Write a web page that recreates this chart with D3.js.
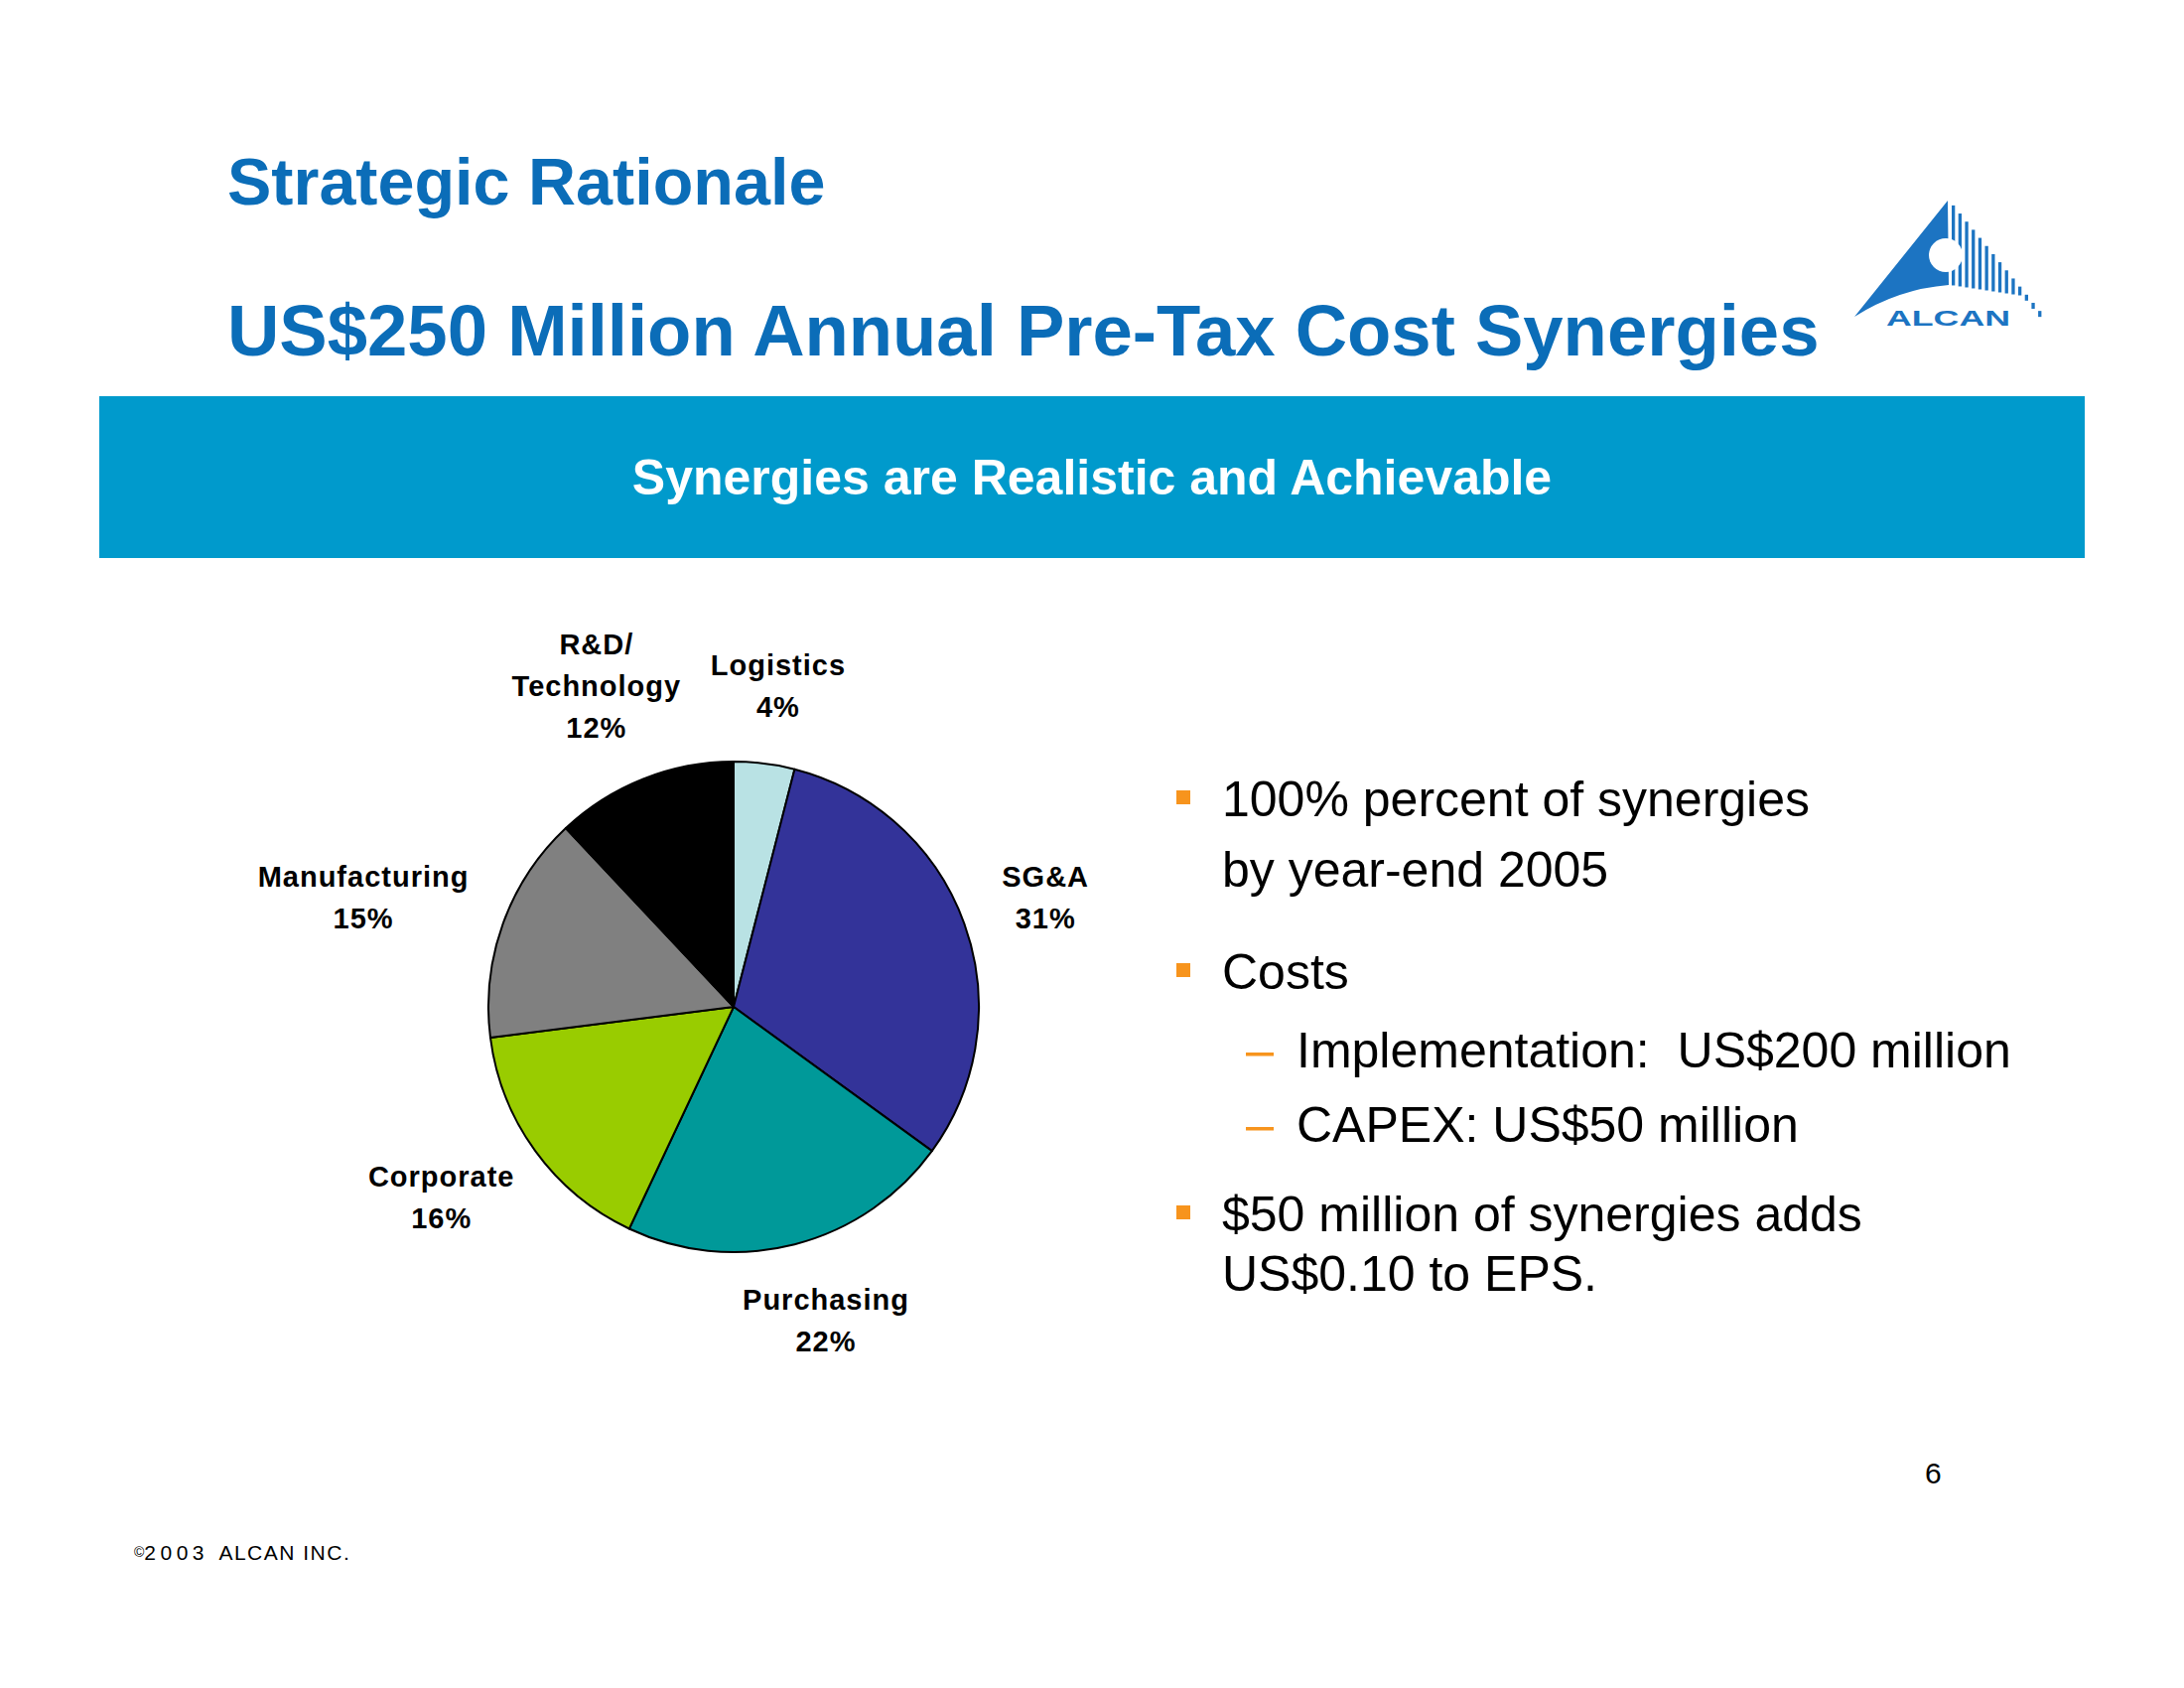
<!DOCTYPE html>
<html>
<head>
<meta charset="utf-8">
<script src="https://cdn.jsdelivr.net/npm/d3@7"></script>
<style>
  body { margin: 0; background: #fff; }
  svg { display: block; }
  text { font-family: "Liberation Sans", Arial, sans-serif; }
</style>
</head>
<body>
<div id="slide"></div>
<script>
// pie data
const categories = ['Logistics', 'SG&A', 'Purchasing', 'Corporate', 'Manufacturing', 'R&D/Technology'];
const labelLines = [['Logistics'], ['SG&A'], ['Purchasing'], ['Corporate'], ['Manufacturing'], ['R&D/', 'Technology']];
const shares = [4, 31, 22, 16, 15, 12];
const sliceColors = ['#b9e2e4', '#333399', '#009999', '#99cc00', '#808080', '#000000'];

// slide text
const kicker = 'Strategic Rationale';
const headline = 'US$250 Million Annual Pre-Tax Cost Synergies';
const banner = 'Synergies are Realistic and Achievable';
const bullets = [
  { level: 1, lines: ['100% percent of synergies', 'by year-end 2005'] },
  { level: 1, lines: ['Costs'] },
  { level: 2, lines: ['Implementation:\u00a0 US$200 million'] },
  { level: 2, lines: ['CAPEX: US$50 million'] },
  { level: 1, lines: ['$50 million of synergies adds', 'US$0.10 to EPS.'] },
];
const pageNumber = '6';

const width = 2200, height = 1700;
const blue = '#0b6db8';
const orange = '#f7941d';

const svg = d3.select('#slide')
  .append('svg')
    .attr('width', width)
    .attr('height', height)
    .attr('viewBox', `0 0 ${width} ${height}`);

svg.append('rect').attr('width', width).attr('height', height).attr('fill', '#fff');

// titles
svg.append('text')
  .attr('x', 229).attr('y', 206)
  .attr('fill', blue)
  .attr('font-size', 66.5)
  .attr('font-weight', 'bold')
  .text(kicker);

svg.append('text')
  .attr('x', 229).attr('y', 358)
  .attr('fill', blue)
  .attr('font-size', 72.5)
  .attr('font-weight', 'bold')
  .text(headline);

// logo
const logo = svg.append('g').attr('fill', '#1c74c2');
logo.append('path')
  .attr('d', 'M1962,202 L1868,319 Q1912,291 1963,287 Z');
const hyp = x => 202 + (x - 1962) * 1.22;
d3.range(1966, 2058, 6.7).forEach(x => {
  const top = hyp(x);
  const bottom = Math.max(287 + (x - 1963) * 0.15, top + 6);
  logo.append('rect')
    .attr('x', x).attr('y', top)
    .attr('width', 3.3).attr('height', bottom - top);
});
logo.append('circle')
  .attr('cx', 1960).attr('cy', 257).attr('r', 17)
  .attr('fill', '#fff');
logo.append('text')
  .attr('x', 1900).attr('y', 328)
  .attr('font-size', 22)
  .attr('font-weight', 'bold')
  .attr('textLength', 125)
  .attr('lengthAdjust', 'spacingAndGlyphs')
  .text('ALCAN');

// banner
svg.append('rect')
  .attr('x', 100).attr('y', 399)
  .attr('width', 2000).attr('height', 163)
  .attr('fill', '#009acc');

svg.append('text')
  .attr('x', 1100).attr('y', 498)
  .attr('text-anchor', 'middle')
  .attr('fill', '#fff')
  .attr('font-size', 50)
  .attr('font-weight', 'bold')
  .text(banner);

// pie
const cx = 739, cy = 1014, radius = 247;

const pie = d3.pie()
  .sort(null)
  .value(d => d.value);

const arc = d3.arc()
  .innerRadius(0)
  .outerRadius(radius);

const pieData = pie(categories.map((c, i) => ({ name: c, value: shares[i], i })));

const group = svg.append('g')
  .attr('transform', `translate(${cx}, ${cy})`);

group.selectAll('.slice')
  .data(pieData)
  .enter().append('path')
    .attr('class', 'slice')
    .attr('d', arc)
    .attr('fill', d => sliceColors[d.data.i])
    .attr('stroke', '#000')
    .attr('stroke-width', 2)
    .attr('stroke-linejoin', 'round');

// labels outside the pie, nearest edge of the text box on a ring
const labelRing = 290;
const lineHeight = 42;
pieData.forEach(d => {
  const a = (d.startAngle + d.endAngle) / 2;
  const lines = [...labelLines[d.data.i], `${d.data.value}%`];
  const label = group.append('text')
    .attr('text-anchor', 'middle')
    .attr('font-size', 29)
    .attr('font-weight', 'bold')
    .attr('letter-spacing', 1)
    .attr('fill', '#000');
  lines.forEach((line, k) => {
    label.append('tspan')
      .attr('x', 0)
      .attr('y', k * lineHeight)
      .text(line);
  });
  const w = label.node().getBBox().width;
  const h = (lines.length - 1) * lineHeight + 30;
  const lx = (labelRing + w / 2) * Math.sin(a);
  const ly = -(labelRing + h / 2) * Math.cos(a);
  label.attr('transform', `translate(${lx}, ${ly - (lines.length - 1) * lineHeight / 2 + 10})`);
});

// bullet list
const spaceBefore = [0, 103, 79, 75, 90];
const lineGap = [71, 0, 0, 0, 60];
let y = 822;
bullets.forEach((b, i) => {
  y += spaceBefore[i];
  if (b.level === 1) {
    svg.append('rect')
      .attr('x', 1185).attr('y', y - 26)
      .attr('width', 14).attr('height', 14)
      .attr('fill', orange);
  } else {
    svg.append('rect')
      .attr('x', 1255).attr('y', y - 15)
      .attr('width', 28).attr('height', 3.5)
      .attr('fill', orange);
  }
  const tx = b.level === 1 ? 1231 : 1306;
  b.lines.forEach((line, k) => {
    if (k > 0) y += lineGap[i];
    svg.append('text')
      .attr('x', tx).attr('y', y)
      .attr('font-size', 50)
      .attr('fill', '#000')
      .text(line);
  });
});

// page number and footer
svg.append('text')
  .attr('x', 1939).attr('y', 1494)
  .attr('font-size', 30)
  .attr('fill', '#000')
  .text(pageNumber);

const footer = svg.append('text')
  .attr('x', 135).attr('y', 1571)
  .attr('font-size', 21)
  .attr('fill', '#000');
footer.append('tspan').attr('font-size', 14).attr('dy', -3).text('©');
footer.append('tspan').attr('dy', 3).attr('letter-spacing', 4.5).text('2003 ');
footer.append('tspan').attr('letter-spacing', 1.5).text('ALCAN INC.');
</script>
</body>
</html>
